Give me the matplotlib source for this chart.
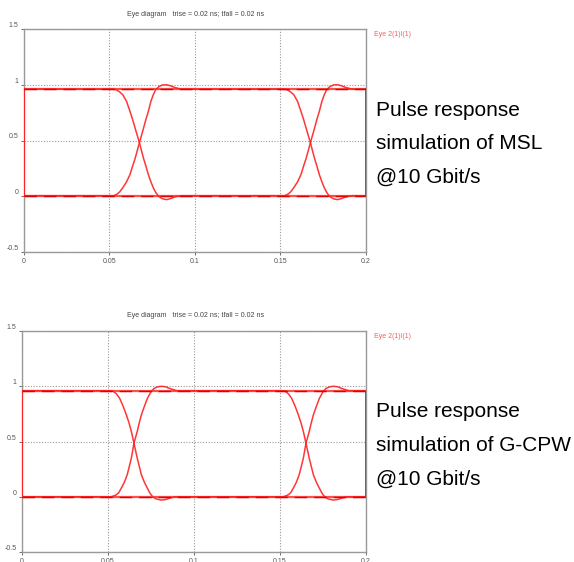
import matplotlib
matplotlib.use("Agg")
from matplotlib import pyplot as plt
import numpy as np

plt.rcParams['font.family'] = ['Liberation Sans', 'DejaVu Sans']

# unit interval at 10 Gbit/s (ns)
ui = 0.1
high_level = 0.96
low_level = 0.0

# MSL eye, first unit interval (time in ns, voltage)
msl_fall_t = [0.0, 0.0519, 0.054, 0.056, 0.0578, 0.060, 0.062, 0.0635, 0.065, 0.0675,
              0.0699, 0.0713, 0.0727, 0.0742, 0.0756, 0.077, 0.0785, 0.080, 0.0815,
              0.0834, 0.0855, 0.0875, 0.0893, 0.092, 0.1]
msl_fall_v = [0.96, 0.96, 0.955, 0.935, 0.91, 0.85, 0.76, 0.69, 0.61, 0.48,
              0.34, 0.27, 0.195, 0.13, 0.077, 0.035, 0.003, -0.015, -0.025,
              -0.03, -0.022, -0.01, -0.002, 0.005, 0.005]
msl_rise_t = [0.0, 0.0525, 0.0545, 0.056, 0.0578, 0.060, 0.062, 0.0635, 0.065, 0.0675,
              0.0699, 0.0713, 0.0727, 0.0742, 0.0756, 0.077, 0.079, 0.081, 0.0834,
              0.0858, 0.0883, 0.092, 0.1]
msl_rise_v = [0.005, 0.005, 0.02, 0.04, 0.077, 0.13, 0.195, 0.27, 0.34, 0.48,
              0.61, 0.69, 0.76, 0.85, 0.91, 0.955, 0.985, 0.998, 1.0,
              0.99, 0.975, 0.96, 0.96]

# G-CPW eye, first unit interval
cpw_fall_t = [0.0, 0.051, 0.053, 0.055, 0.0568, 0.0588, 0.0607, 0.0622, 0.0636, 0.0651,
              0.067, 0.0682, 0.0694, 0.0712, 0.0729, 0.0745, 0.076, 0.078, 0.081,
              0.0835, 0.0859, 0.089, 0.1]
cpw_fall_v = [0.96, 0.96, 0.955, 0.93, 0.89, 0.82, 0.74, 0.67, 0.59, 0.485,
              0.35, 0.275, 0.2, 0.13, 0.077, 0.03, 0.0, -0.02, -0.03,
              -0.025, -0.013, 0.0, 0.0]
cpw_rise_t = [0.0, 0.052, 0.0545, 0.0562, 0.0577, 0.0595, 0.0612, 0.0624, 0.0636, 0.0651,
              0.067, 0.0682, 0.0694, 0.0712, 0.0729, 0.0748, 0.0767, 0.079, 0.081,
              0.0835, 0.0859, 0.09, 0.1]
cpw_rise_v = [0.0, 0.0, 0.015, 0.035, 0.077, 0.13, 0.2, 0.275, 0.35, 0.485,
              0.59, 0.67, 0.74, 0.82, 0.89, 0.945, 0.98, 0.995, 1.0,
              0.995, 0.98, 0.96, 0.96]

panels = [
    ("Pulse response\nsimulation of MSL\n@10 Gbit/s",
     msl_fall_t, msl_fall_v, msl_rise_t, msl_rise_v),
    ("Pulse response\nsimulation of G-CPW\n@10 Gbit/s",
     cpw_fall_t, cpw_fall_v, cpw_rise_t, cpw_rise_v),
]

title = "Eye diagram   trise = 0.02 ns; tfall = 0.02 ns"
legend_label = "Eye 2(1)I(1)"
x_ticks = [0, 0.05, 0.1, 0.15, 0.2]
x_labels = ["0", "0.05", "0.1", "0.15", "0.2"]
y_ticks = [-0.5, 0, 0.5, 1, 1.5]
y_labels = ["-0.5", "0", "0.5", "1", "1.5"]

fig = plt.figure(figsize=(5.74, 5.62), dpi=100)
axes_rects = [[0.0418, 0.5516, 0.5958, 0.3968], [0.0383, 0.0178, 0.5993, 0.3932]]
title_y = [0.975, 0.4395]
legend_y = [0.9395, 0.402]
note_y = [0.821, 0.284]

red = '#ff2020'
for i, (note, ft, fv, rt, rv) in enumerate(panels):
    ax = fig.add_axes(axes_rects[i])
    ax.set_xlim(0, 0.2)
    ax.set_ylim(-0.5, 1.5)
    # settled levels
    ax.plot([0, 0.2], [high_level, high_level], color='#ff5050', lw=1.6, zorder=3)
    ax.plot([0, 0.2], [low_level, low_level], color='#ff5050', lw=1.6, zorder=3)
    ax.plot([0, 0.2], [high_level, high_level], color='#e00000', lw=1.0,
            dashes=(9, 5), zorder=4)
    ax.plot([0, 0.2], [low_level, low_level], color='#e00000', lw=1.0,
            dashes=(9, 5), zorder=4)
    ax.plot([0, 0], [low_level, high_level], color=red, lw=1.4, zorder=3)
    ax.plot([0.2, 0.2], [low_level, high_level], color=red, lw=1.4, zorder=3)
    for k in range(2):
        ax.plot(np.array(ft) + k * ui, fv, color=red, lw=1.1, alpha=0.9, zorder=3)
        ax.plot(np.array(rt) + k * ui, rv, color=red, lw=1.1, alpha=0.9, zorder=3)
    ax.set_xticks(x_ticks)
    ax.set_xticklabels(x_labels)
    ax.set_yticks(y_ticks)
    ax.set_yticklabels(y_labels)
    for lab in ax.get_yticklabels():
        lab.set_va('bottom')
    ax.tick_params(labelsize=5, colors='#555555', length=2, width=0.6, pad=2)
    ax.grid(True, color='#999999', linestyle=(0, (1, 1.5)), lw=0.8)
    for s in ax.spines.values():
        s.set_color('#999999')
        s.set_linewidth(1.0)
    fig.text(0.34, title_y[i], title, fontsize=5, color='#444444',
             ha='center', va='center')
    fig.text(0.652, legend_y[i], legend_label, fontsize=5, color='#ff5a5a',
             ha='left', va='center')
    fig.text(0.655, note_y[i], note, fontsize=15, color='black',
             ha='left', va='top', linespacing=1.97)

fig.savefig("out.png", dpi=100)
